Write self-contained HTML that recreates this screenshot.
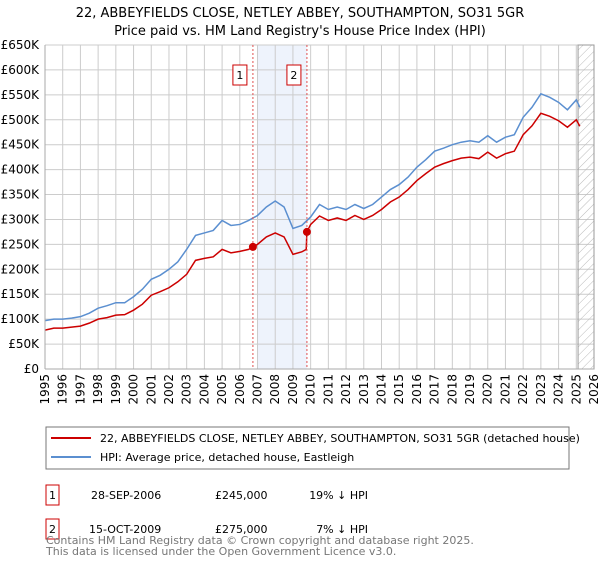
<!DOCTYPE html>
<html><head><meta charset="utf-8"><style>
body{margin:0;background:#fff;font-family:"DejaVu Sans","Liberation Sans",sans-serif;}
svg text{font-family:"DejaVu Sans","Liberation Sans",sans-serif;}
</style></head><body>
<svg id="c" width="600" height="560" xmlns="http://www.w3.org/2000/svg">
<defs><pattern id="hatch" width="6" height="6" patternUnits="userSpaceOnUse" patternTransform="rotate(45)"><line x1="0" y1="0" x2="0" y2="6" stroke="#bbb" stroke-width="1"/></pattern></defs>
<text x="300" y="17" text-anchor="middle" font-size="13">22, ABBEYFIELDS CLOSE, NETLEY ABBEY, SOUTHAMPTON, SO31 5GR</text>
<text x="300" y="35" text-anchor="middle" font-size="13">Price paid vs. HM Land Registry's House Price Index (HPI)</text>
<g id="grid"></g><g id="plot"></g><g id="axes"></g>
<rect x="46" y="427" width="523" height="42" fill="#fff" stroke="#777"/>
<line x1="51" y1="438" x2="91" y2="438" stroke="#cc0000" stroke-width="2"/>
<text x="100" y="442" font-size="11">22, ABBEYFIELDS CLOSE, NETLEY ABBEY, SOUTHAMPTON, SO31 5GR (detached house)</text>
<line x1="51" y1="457" x2="91" y2="457" stroke="#5b8fd0" stroke-width="2"/>
<text x="100" y="461" font-size="11">HPI: Average price, detached house, Eastleigh</text>
<rect x="46" y="485" width="13" height="20" fill="#fff" stroke="#cc0000"/>
<text x="52.5" y="499" font-size="11" text-anchor="middle">1</text>
<text x="91" y="499" font-size="11">28-SEP-2006</text>
<text x="215" y="499" font-size="11">£245,000</text>
<text x="368" y="499" font-size="11" text-anchor="end">19% ↓ HPI</text>
<rect x="46" y="519" width="13" height="20" fill="#fff" stroke="#cc0000"/>
<text x="52.5" y="533" font-size="11" text-anchor="middle">2</text>
<text x="89" y="533" font-size="11">15-OCT-2009</text>
<text x="215" y="533" font-size="11">£275,000</text>
<text x="368" y="533" font-size="11" text-anchor="end">7% ↓ HPI</text>
<text x="46" y="544" font-size="11" fill="#777">Contains HM Land Registry data © Crown copyright and database right 2025.</text>
<text x="46" y="555" font-size="11" fill="#777">This data is licensed under the Open Government Licence v3.0.</text>
</svg>
<script>
const hpiYears=[1995,1995.5,1996,1996.5,1997,1997.5,1998,1998.5,1999,1999.5,2000,2000.5,2001,2001.5,2002,2002.5,2003,2003.5,2004,2004.5,2005,2005.5,2006,2006.5,2007,2007.5,2008,2008.5,2009,2009.5,2010,2010.5,2011,2011.5,2012,2012.5,2013,2013.5,2014,2014.5,2015,2015.5,2016,2016.5,2017,2017.5,2018,2018.5,2019,2019.5,2020,2020.5,2021,2021.5,2022,2022.5,2023,2023.5,2024,2024.5,2025,2025.2];
const hpiValues=[97,100,100,102,105,112,122,127,133,133,145,160,180,188,200,215,240,268,273,278,298,288,290,298,308,325,337,325,282,288,305,330,320,325,320,330,322,330,345,360,370,385,405,420,437,443,450,455,458,455,468,455,465,470,505,525,552,545,535,520,540,525];
const priceYears=[1995,1995.5,1996,1996.5,1997,1997.5,1998,1998.5,1999,1999.5,2000,2000.5,2001,2001.5,2002,2002.5,2003,2003.5,2004,2004.5,2005,2005.5,2006,2006.5,2006.74,2007,2007.5,2008,2008.5,2009,2009.5,2009.75,2009.79,2010,2010.5,2011,2011.5,2012,2012.5,2013,2013.5,2014,2014.5,2015,2015.5,2016,2016.5,2017,2017.5,2018,2018.5,2019,2019.5,2020,2020.5,2021,2021.5,2022,2022.5,2023,2023.5,2024,2024.5,2025,2025.2];
const priceValues=[78,82,82,84,86,92,100,103,108,109,118,130,148,155,163,175,190,218,222,225,240,233,236,240,245,250,265,273,265,230,235,240,275,290,307,298,303,298,308,300,308,320,335,345,360,378,392,405,412,418,423,425,422,435,423,432,437,470,488,513,507,498,485,500,487];
const saleYears=[2006.74,2009.79];
const saleValues=[245,275];
const saleLabels=["1","2"];
const yTicks=[0,50,100,150,200,250,300,350,400,450,500,550,600,650];
const xTicks=[1995,1996,1997,1998,1999,2000,2001,2002,2003,2004,2005,2006,2007,2008,2009,2010,2011,2012,2013,2014,2015,2016,2017,2018,2019,2020,2021,2022,2023,2024,2025,2026];
const X0=45,X1=594,Y0=369,Y1=45;
const x=v=>X0+(v-1995)/(2026-1995)*(X1-X0);
const y=v=>Y0-v/650*(Y0-Y1);
const NS="http://www.w3.org/2000/svg";
function mk(t,a,p){const e=document.createElementNS(NS,t);for(const k in a)e.setAttribute(k,a[k]);p.appendChild(e);return e;}
const grid=document.getElementById('grid'),plot=document.getElementById('plot'),axes=document.getElementById('axes');
const shade=mk('rect',{x:x(2007),y:Y1,width:x(2009.79)-x(2007),height:Y0-Y1,fill:'#eef3fc'},grid);


yTicks.forEach(v=>{mk('line',{x1:X0,x2:X1,y1:y(v),y2:y(v),stroke:'#ccc'},grid);
const t=mk('text',{x:X0-6,y:y(v)+4,'text-anchor':'end','font-size':12},axes);t.textContent=v===0?'£0':'£'+v+'K';

});
xTicks.forEach(v=>{mk('line',{x1:x(v),x2:x(v),y1:Y1,y2:Y0,stroke:'#ccc'},grid);
const t=mk('text',{x:0,y:0,'text-anchor':'end','font-size':12,transform:`translate(${x(v)+4},${Y0+5}) rotate(-90)`},axes);t.textContent=v;

});
const h=mk('rect',{x:x(2025.1),y:Y1,width:X1-x(2025.1),height:Y0-Y1,fill:'url(#hatch)',stroke:'#999'},grid);


mk('line',{x1:X0,x2:X0,y1:Y1,y2:Y0,stroke:'#aaa'},axes);
mk('line',{x1:X0,x2:X1,y1:Y0,y2:Y0,stroke:'#aaa'},axes);
const hp=mk('polyline',{points:hpiYears.map((v,i)=>x(v)+','+y(hpiValues[i])).join(' '),fill:'none',stroke:'#5b8fd0','stroke-width':1.5},plot);


const pp=mk('polyline',{points:priceYears.map((v,i)=>x(v)+','+y(priceValues[i])).join(' '),fill:'none',stroke:'#cc0000','stroke-width':1.5},plot);


saleYears.forEach((v,i)=>{
const l=mk('line',{x1:x(v),x2:x(v),y1:Y1,y2:Y0,stroke:'#e05050','stroke-dasharray':'2,2'},plot);


const c=mk('circle',{cx:x(v),cy:y(saleValues[i]),r:4,fill:'#cc0000'},plot);


const r=mk('rect',{x:x(v)-20,y:65,width:14,height:20,fill:'#fff',stroke:'#cc0000'},plot);


const t=mk('text',{x:x(v)-13,y:79,'text-anchor':'middle','font-size':11},plot);t.textContent=saleLabels[i];


});
</script>
</body></html>
